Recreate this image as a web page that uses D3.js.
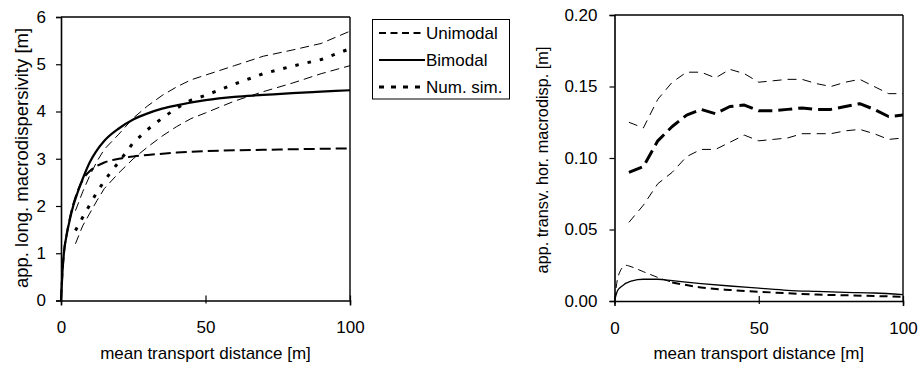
<!DOCTYPE html>
<html><head><meta charset="utf-8">
<script src="https://cdn.jsdelivr.net/npm/d3@7"></script>
<style>
body{margin:0;background:#fff}
svg{display:block}
text{font-family:"Liberation Sans",Arial,sans-serif;fill:#000}
</style>
</head><body>
<svg id="c" width="922" height="368"></svg>
<script>
// ---------- data ----------
const xTicks = [0, 50, 100];
const leftYTicks = [0, 1, 2, 3, 4, 5, 6];
const rightYTicks = [0, 0.05, 0.10, 0.15, 0.20];
const legendLabels = ["Unimodal", "Bimodal", "Num. sim."];
const xTitle = "mean transport distance [m]";
const leftYTitle = "app. long. macrodispersivity [m]";
const rightYTitle = "app. transv. hor. macrodisp. [m]";

// left chart: longitudinal macrodispersivity
const leftBimodalX = [0,0.5,1,2,3,4,5,6,8,10,12,15,20,25,30,35,40,50,60,70,80,90,100];
const leftBimodalY = [0,0.6,1.0,1.4,1.7,1.95,2.15,2.33,2.65,2.93,3.14,3.38,3.64,3.83,3.96,4.06,4.13,4.24,4.31,4.35,4.39,4.42,4.45];
const leftUnimodalX = [0,0.5,1,2,3,4,5,6,8,10,12,15,20,25,30,40,50,60,70,80,90,100];
const leftUnimodalY = [0,0.6,1.0,1.42,1.72,1.98,2.18,2.35,2.6,2.74,2.83,2.92,3.0,3.05,3.08,3.13,3.16,3.18,3.19,3.2,3.21,3.22];
const leftSimX = [5,7.5,10,12.5,15,17.5,20,25,30,35,40,45,50,60,70,80,90,100];
const leftSimY = [1.48,1.76,2.03,2.3,2.53,2.74,2.93,3.34,3.62,3.86,4.07,4.24,4.34,4.58,4.8,4.96,5.1,5.33];
const leftBandX = [5,7.5,10,12.5,15,20,25,30,35,40,45,50,60,70,80,90,100];
const leftUpperY = [1.9,2.3,2.65,2.95,3.2,3.52,3.86,4.12,4.34,4.52,4.67,4.77,4.97,5.17,5.3,5.44,5.7];
const leftLowerY = [1.2,1.58,1.85,2.12,2.37,2.7,3.0,3.25,3.48,3.68,3.85,3.97,4.22,4.42,4.6,4.8,4.97];

// right chart: transverse horizontal macrodispersivity
const rightBandX = [5,10,15,20,25,30,35,40,45,50,55,60,65,70,75,80,85,90,95,100];
const rightUpperY = [0.125,0.121,0.141,0.153,0.160,0.160,0.156,0.162,0.159,0.153,0.154,0.155,0.155,0.152,0.150,0.153,0.155,0.150,0.145,0.145];
const rightSimY = [0.090,0.094,0.112,0.122,0.130,0.134,0.131,0.136,0.137,0.133,0.133,0.134,0.135,0.134,0.134,0.136,0.138,0.134,0.129,0.130];
const rightLowerY = [0.055,0.067,0.082,0.090,0.101,0.106,0.106,0.111,0.116,0.112,0.113,0.114,0.117,0.117,0.117,0.119,0.120,0.117,0.113,0.114];
const rightUnimodalX = [0,1,2,3,4,5,10,15,20,30,40,50,60,70,80,90,100];
const rightUnimodalY = [0,0.015,0.021,0.024,0.025,0.0245,0.0205,0.0165,0.013,0.0095,0.0077,0.0065,0.0054,0.0045,0.004,0.0035,0.003];
const rightBimodalX = [0,1,2,3,4,5,6,8,10,15,20,30,40,50,60,70,80,90,100];
const rightBimodalY = [0,0.007,0.0095,0.011,0.0125,0.0133,0.014,0.015,0.0152,0.0152,0.0142,0.0122,0.0105,0.009,0.0075,0.0067,0.006,0.0056,0.0045];

// ---------- drawing ----------
const zip = (xs, ys) => xs.map((x, i) => [x, ys[i]]);
const svg = d3.select("#c");
const FS = 17;

function panel(cfg) {
  const g = svg.append("g");
  const x = d3.scaleLinear().domain([0, 100]).range([cfg.x0, cfg.x1]);
  const y = d3.scaleLinear().domain(cfg.yDomain).range([cfg.y0, cfg.y1]);

  // frame (top, right)
  g.append("line").attr("x1", cfg.x0).attr("x2", cfg.x1).attr("y1", cfg.y1).attr("y2", cfg.y1)
    .attr("stroke", "#000").attr("stroke-width", 1.4);
  g.append("line").attr("x1", cfg.x1).attr("x2", cfg.x1).attr("y1", cfg.y1).attr("y2", cfg.y0)
    .attr("stroke", "#000").attr("stroke-width", 1.4);

  // series
  cfg.series.forEach(s => {
    const line = d3.line().x(d => x(d[0])).y(d => y(d[1])).curve(s.smooth ? d3.curveMonotoneX : d3.curveLinear);
    g.append("path").datum(s.data).attr("d", line).attr("fill", "none")
      .attr("stroke", "#000").attr("stroke-width", s.w)
      .attr("stroke-dasharray", s.dash || null)
      .attr("stroke-linecap", "butt").attr("stroke-linejoin", "round");
  });

  // y axis
  const ya = g.append("g").attr("transform", `translate(${cfg.x0},0)`)
    .call(d3.axisLeft(y).tickValues(cfg.yTicks).tickFormat(cfg.yFmt).tickSize(5).tickPadding(cfg.yPad));
  ya.select(".domain").attr("stroke-width", 1.6);
  ya.selectAll(".tick line").attr("stroke-width", 1.2);
  ya.selectAll("text").attr("font-size", FS).attr("font-family", null);

  // x axis
  const xa = g.append("g").attr("transform", `translate(0,${cfg.y0})`)
    .call(d3.axisBottom(x).tickValues(xTicks).tickFormat(d3.format("d")).tickSize(5).tickPadding(10));
  xa.select(".domain").attr("stroke-width", 1.6);
  xa.selectAll(".tick line").attr("y1", -5).attr("y2", 3).attr("stroke-width", 1.2);
  xa.selectAll("text").attr("font-size", FS).attr("font-family", null).attr("dy", null).attr("y", 32.5);

  // titles
  g.append("text").attr("x", (cfg.x0 + cfg.x1) / 2).attr("y", 359).attr("text-anchor", "middle")
    .attr("font-size", FS).text(xTitle);
  g.append("text").attr("transform", `translate(${cfg.tx},${cfg.ty}) rotate(-90)`)
    .attr("text-anchor", "middle").attr("font-size", cfg.tfs).text(cfg.title);
}

panel({
  x0: 61, x1: 350, y0: 300.5, y1: 17, yDomain: [0, 6], yTicks: leftYTicks,
  yFmt: d3.format("d"), yPad: 10, tx: 28, ty: 158, tfs: 18.5, title: leftYTitle,
  series: [
    { data: zip(leftBandX, leftUpperY), w: 1, dash: "9,5" },
    { data: zip(leftBandX, leftLowerY), w: 1, dash: "9,5" },
    { data: zip(leftUnimodalX, leftUnimodalY), w: 2, dash: "11,5", smooth: true },
    { data: zip(leftSimX, leftSimY), w: 3, dash: "3.5,9" },
    { data: zip(leftBimodalX, leftBimodalY), w: 2.2, smooth: true }
  ]
});

const uni = zip(rightUnimodalX, rightUnimodalY);
panel({
  x0: 614.5, x1: 903, y0: 301, y1: 15, yDomain: [0, 0.2], yTicks: rightYTicks,
  yFmt: d3.format(".2f"), yPad: 12, tx: 548, ty: 160, tfs: 16.3, title: rightYTitle,
  series: [
    { data: zip(rightBandX, rightUpperY), w: 1, dash: "9,6" },
    { data: zip(rightBandX, rightLowerY), w: 1, dash: "9,6" },
    { data: zip(rightBandX, rightSimY), w: 3, dash: "14,6" },
    { data: zip(rightBimodalX, rightBimodalY), w: 1.3, smooth: true },
    { data: uni.filter(d => d[0] <= 20), w: 1, dash: "8,5", smooth: true },
    { data: uni.filter(d => d[0] >= 20), w: 2, dash: "8,5", smooth: true }
  ]
});

// legend
const lg = svg.append("g");
lg.append("rect").attr("x", 372.5).attr("y", 19.5).attr("width", 137).attr("height", 79.5)
  .attr("fill", "#fff").attr("stroke", "#000").attr("stroke-width", 1);
const legendStyles = [{ w: 2, dash: "7,4.5" }, { w: 2.2, dash: null }, { w: 3, dash: "5,7" }];
const rowY = d3.scalePoint().domain(legendLabels).range([33, 87]);
legendLabels.forEach((lab, i) => {
  const yy = rowY(lab);
  lg.append("line").attr("x1", 379).attr("x2", 425).attr("y1", yy).attr("y2", yy)
    .attr("stroke", "#000").attr("stroke-width", legendStyles[i].w)
    .attr("stroke-dasharray", legendStyles[i].dash);
  lg.append("text").attr("x", 426).attr("y", yy + 6).attr("font-size", FS).text(lab);
});
</script>
</body></html>
